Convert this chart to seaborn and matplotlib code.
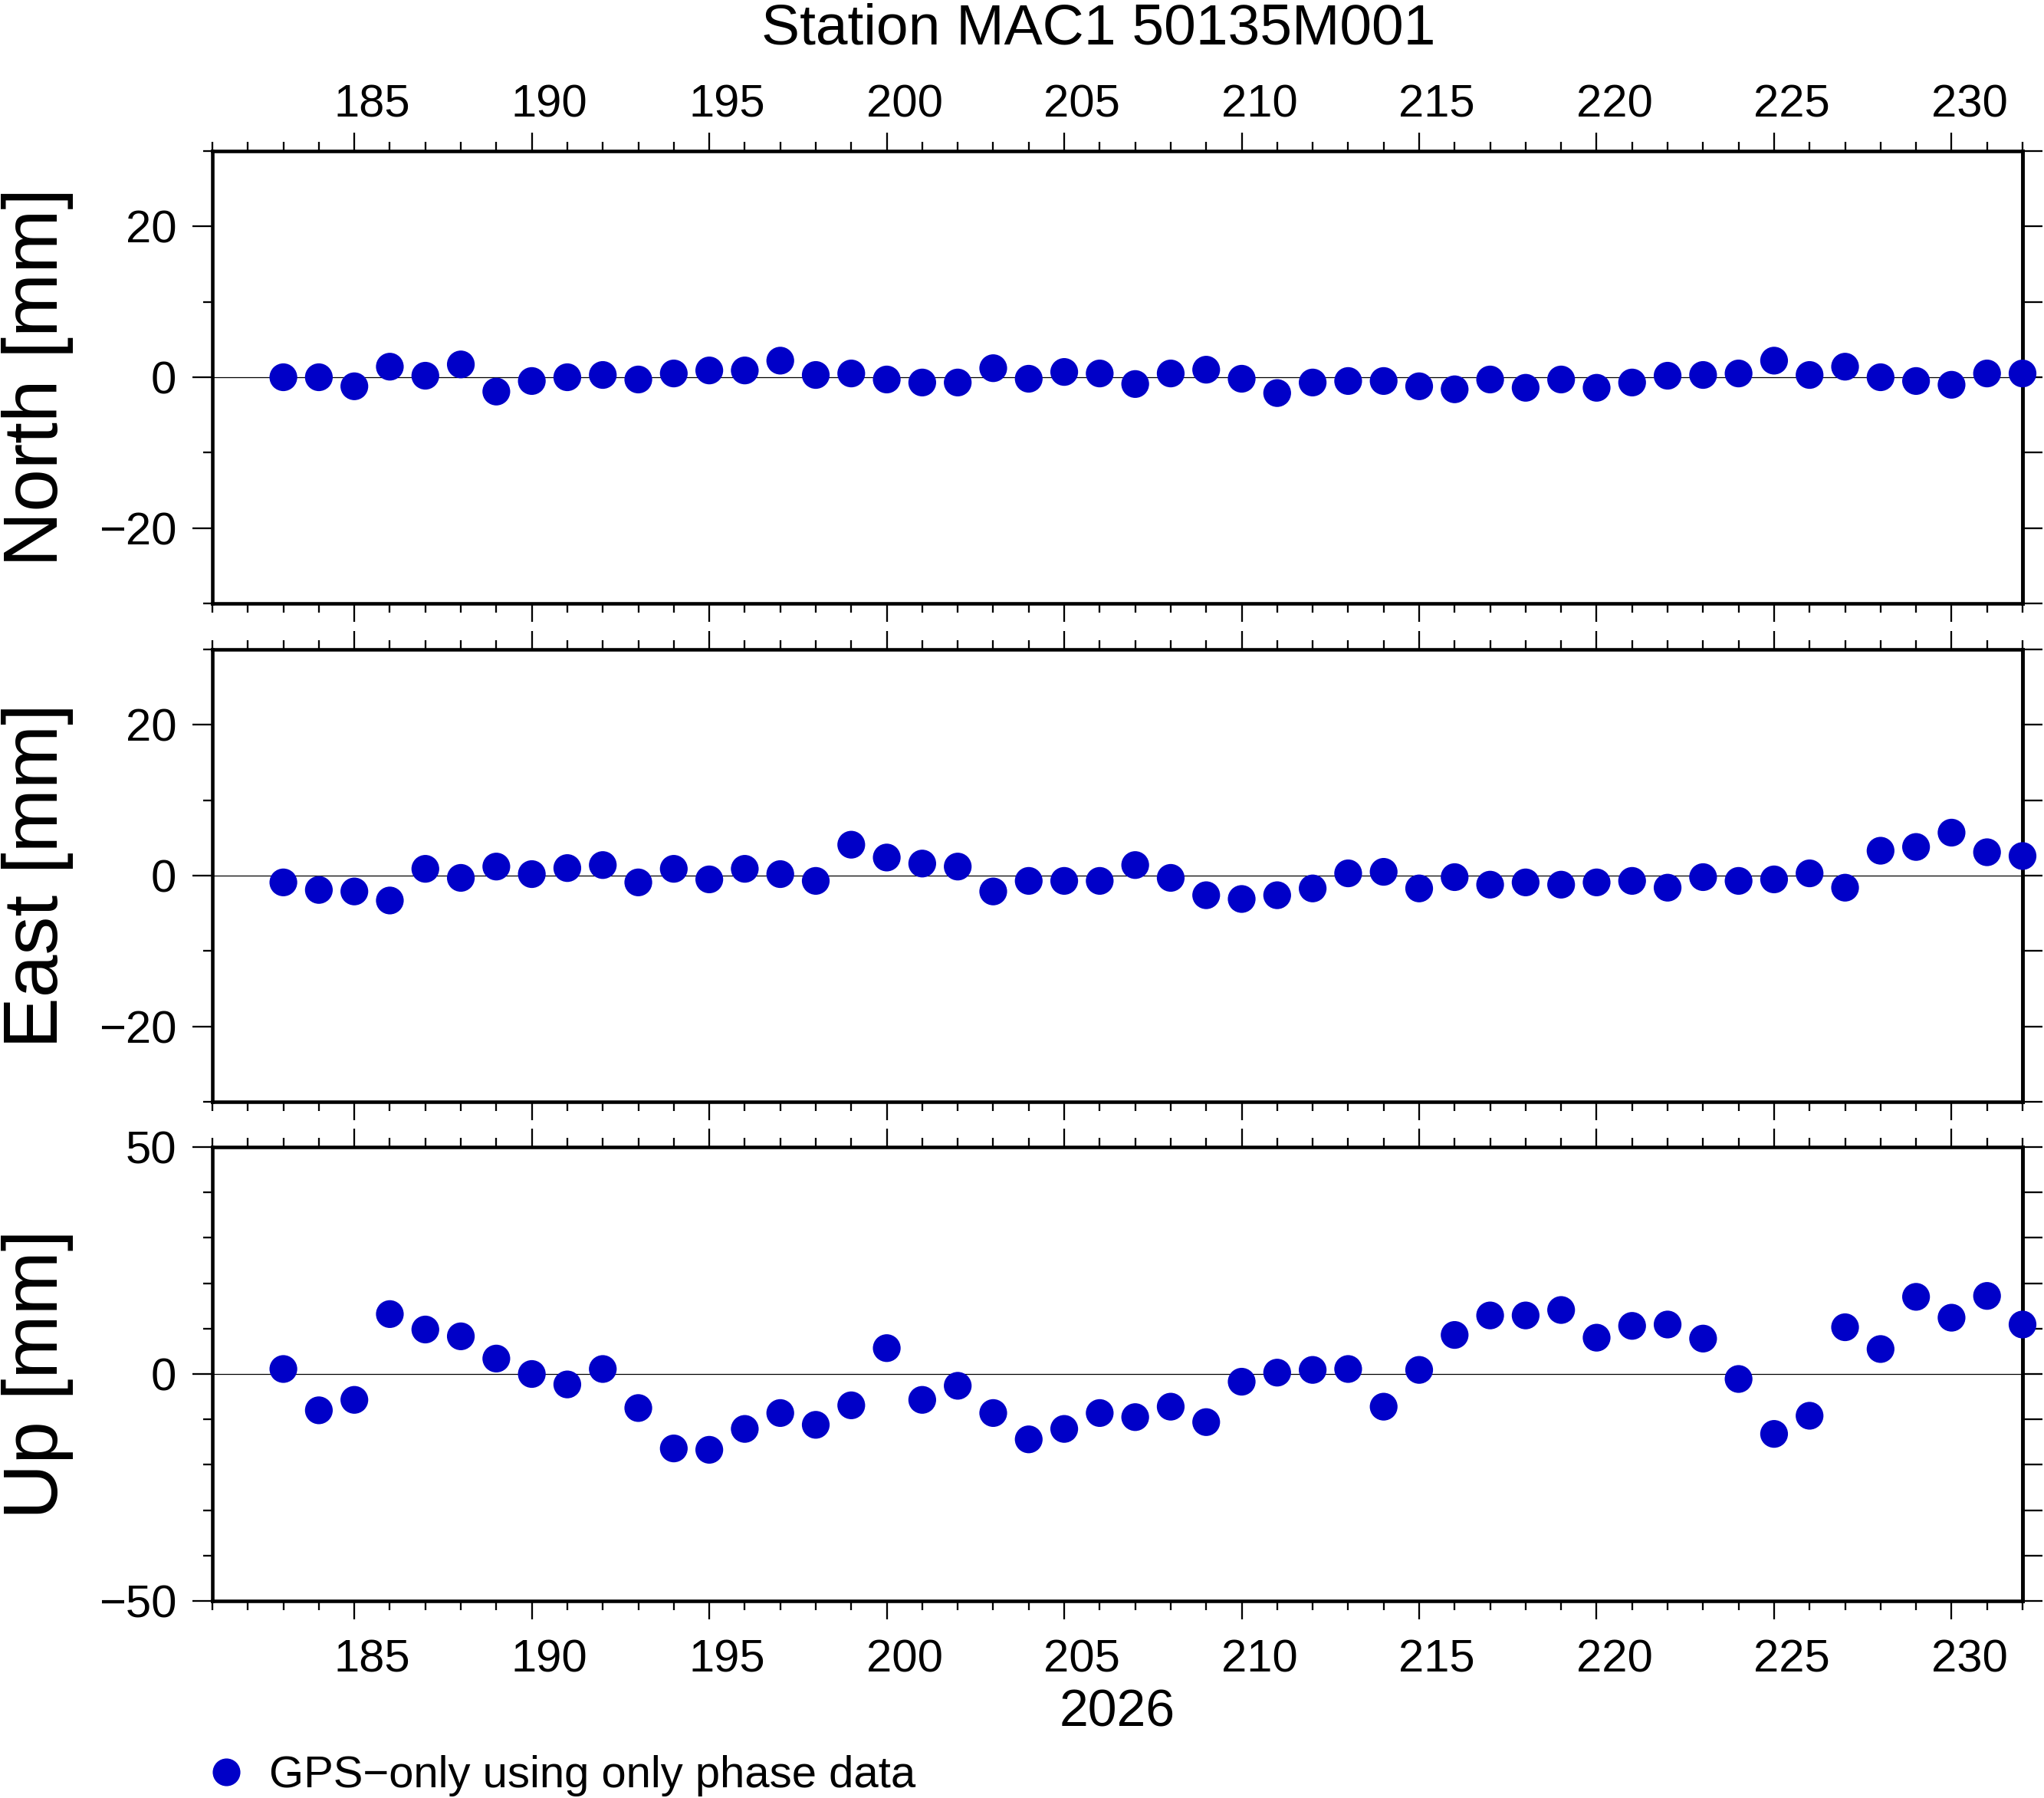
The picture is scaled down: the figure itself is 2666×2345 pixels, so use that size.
import numpy as np
import pandas as pd
import matplotlib
matplotlib.use('Agg')
import matplotlib.pyplot as plt
import matplotlib.transforms as mtransforms
import seaborn as sns
from matplotlib.ticker import MultipleLocator
from matplotlib.lines import Line2D

# Daily GPS solutions, day of year 2026
days = list(range(183, 233))

north = [0.0, 0.0, -1.2, 1.4, 0.2, 1.7, -1.9, -0.5, 0.0, 0.3,
         -0.3, 0.5, 0.9, 0.9, 2.2, 0.3, 0.5, -0.3, -0.7, -0.7,
         1.2, -0.2, 0.7, 0.5, -0.9, 0.5, 1.0, -0.2, -2.1, -0.7,
         -0.5, -0.5, -1.2, -1.6, -0.3, -1.4, -0.3, -1.4, -0.7, 0.2,
         0.3, 0.5, 2.2, 0.3, 1.4, 0.0, -0.5, -1.0, 0.5, 0.5]

east = [-0.9, -1.9, -2.1, -3.3, 0.9, -0.3, 1.2, 0.2, 1.0, 1.4,
        -0.9, 0.9, -0.5, 0.9, 0.2, -0.7, 4.1, 2.4, 1.6, 1.2,
        -2.1, -0.7, -0.7, -0.7, 1.4, -0.3, -2.6, -3.1, -2.6, -1.7,
        0.3, 0.5, -1.7, -0.2, -1.2, -0.9, -1.2, -0.9, -0.7, -1.6,
        -0.2, -0.7, -0.5, 0.3, -1.6, 3.3, 3.8, 5.7, 3.1, 2.6]

up = [1.1, -8.0, -5.7, 13.2, 9.8, 8.3, 3.4, 0.0, -2.3, 1.1,
      -7.5, -16.4, -16.7, -12.1, -8.6, -11.2, -6.9, 5.7, -5.7, -2.6,
      -8.6, -14.4, -12.1, -8.6, -9.5, -7.2, -10.6, -1.7, 0.3, 0.9,
      1.1, -7.2, 0.9, 8.6, 12.9, 12.9, 14.1, 8.0, 10.6, 10.9,
      7.8, -1.1, -13.2, -9.2, 10.3, 5.5, 17.0, 12.4, 17.2, 10.9]

components = ['North', 'East', 'Up']
ylabels = ['North [mm]', 'East [mm]', 'Up [mm]']
ylims = [30, 30, 50]
ymajor = [20, 20, 50]

title = 'Station MAC1 50135M001'
year_label = '2026'
legend_label = 'GPS\u2212only using only phase data'

df = pd.DataFrame({
    'day': days * 3,
    'value': north + east + up,
    'component': np.repeat(components, len(days)),
})

sns.set_theme(style='ticks')
plt.rcParams['font.family'] = ['Liberation Sans', 'DejaVu Sans']
plt.rcParams['axes.edgecolor'] = 'black'
plt.rcParams['xtick.color'] = 'black'
plt.rcParams['ytick.color'] = 'black'
plt.rcParams['text.color'] = 'black'

dot_color = '#0000c8'
W, H = 2666, 2345
fig = plt.figure(figsize=(W / 100, H / 100), dpi=100)

left = 277 / W
width = (2638 - 277) / W
panel_px = [(197, 787), (847, 1437), (1496, 2088)]

axes = []
for i, comp in enumerate(components):
    top_px, bot_px = panel_px[i]
    ax = fig.add_axes([left, 1 - bot_px / H, width, (bot_px - top_px) / H])
    axes.append(ax)
    sub = df[df['component'] == comp]

    ax.axhline(0, color='black', lw=0.9, zorder=1)
    sns.scatterplot(data=sub, x='day', y='value', ax=ax, s=680,
                    color=dot_color, edgecolor='none', linewidth=0,
                    legend=False, clip_on=False, zorder=3)
    ax.set_xlabel('')
    ax.set_ylabel('')
    ax.set_xlim(181, 232)
    ax.set_ylim(-ylims[i], ylims[i])

    ax.xaxis.set_major_locator(MultipleLocator(5))
    ax.xaxis.set_minor_locator(MultipleLocator(1))
    ax.yaxis.set_major_locator(MultipleLocator(ymajor[i]))
    ax.yaxis.set_minor_locator(MultipleLocator(10))

    ax.tick_params(axis='x', which='both', direction='out', top=True, bottom=True,
                   labelbottom=(i == 2), labeltop=(i == 0), width=1.65,
                   labelsize=43, pad=8)
    ax.tick_params(axis='x', which='major', length=17)
    ax.tick_params(axis='x', which='minor', length=8.5)
    ax.tick_params(axis='y', which='both', direction='out', left=True, right=False,
                   labelleft=True, labelright=False, width=1.65,
                   labelsize=43, pad=15)
    ax.tick_params(axis='y', which='major', length=18.5)
    ax.tick_params(axis='y', which='minor', length=9)

    for sp in ax.spines.values():
        sp.set_visible(True)
        sp.set_linewidth(3.3)
        sp.set_color('black')

    # right side: plain ticks every 10 mm
    sec = ax.secondary_yaxis('right')
    sec.yaxis.set_major_locator(MultipleLocator(10))
    sec.tick_params(axis='y', which='major', direction='out', length=18.5,
                    width=1.65, labelright=False)
    sec.tick_params(axis='y', which='minor', right=False)
    sec.spines['right'].set_linewidth(3.3)

    fig.text(49 / W, 1 - (top_px + bot_px) / 2 / H, ylabels[i], rotation=90,
             ha='center', va='center', fontsize=72)

fig.text(1433 / W, 1 - 58 / H, title, ha='center', va='baseline', fontsize=54)
fig.text(1457 / W, 1 - 2251 / H, year_label, ha='center', va='baseline', fontsize=49)

handle = Line2D([], [], marker='o', ls='none', color=dot_color,
                markersize=26, markeredgewidth=0)
fig.legend(handles=[handle], labels=[legend_label], loc='center left',
           bbox_to_anchor=(276 / W, 1 - 2316 / H), frameon=False, fontsize=41.8,
           handlelength=0.64, handletextpad=0.66, borderpad=0, borderaxespad=0)

# day labels sit in the middle of the day interval (GMT style)
fig.canvas.draw()
half_day = (2638 - 277) / 51 / 2 / 100
for ax in axes:
    for tick in ax.xaxis.get_major_ticks():
        tick.label1.set_transform(tick.label1.get_transform() +
                                  mtransforms.ScaledTranslation(half_day, -0.15, fig.dpi_scale_trans))
        tick.label2.set_transform(tick.label2.get_transform() +
                                  mtransforms.ScaledTranslation(half_day, -0.02, fig.dpi_scale_trans))

fig.savefig('out.png', dpi=100)
